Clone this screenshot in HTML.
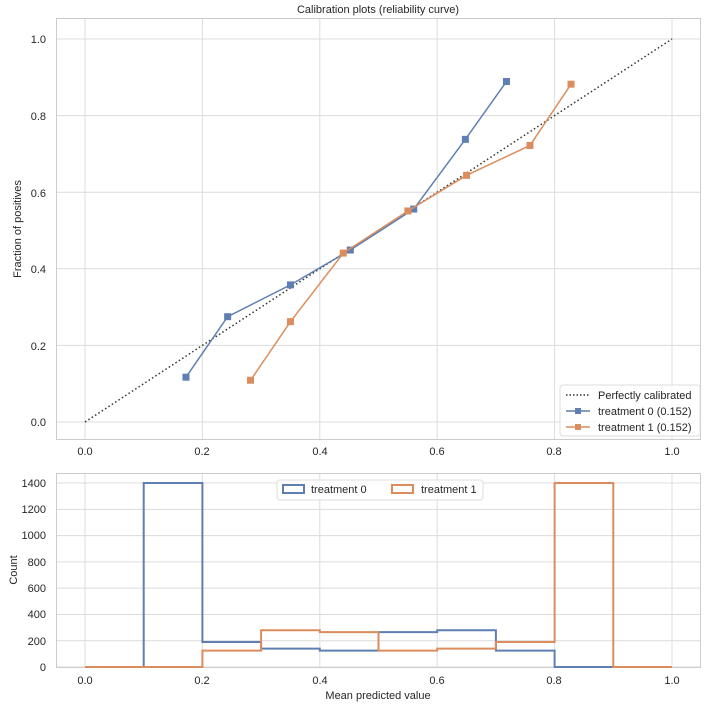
<!DOCTYPE html>
<html><head><meta charset="utf-8"><style>
body{margin:0;background:#fff}
svg text{font-family:"Liberation Sans",sans-serif;font-size:11px;fill:#262626}
</style></head><body>
<svg id="s" width="708" height="708" xmlns="http://www.w3.org/2000/svg">
<rect width="708" height="708" fill="#fff"/>
<g id="g1"></g>
<text x="378" y="13" text-anchor="middle" font-size="11.5">Calibration plots  (reliability curve)</text>
<g text-anchor="middle">
<text x="85" y="455">0.0</text><text x="202" y="455">0.2</text><text x="320" y="455">0.4</text><text x="437" y="455">0.6</text><text x="554" y="455">0.8</text><text x="672" y="455">1.0</text>
<text x="85" y="684">0.0</text><text x="202" y="684">0.2</text><text x="320" y="684">0.4</text><text x="437" y="684">0.6</text><text x="554" y="684">0.8</text><text x="672" y="684">1.0</text>
<text x="378" y="699" font-size="12">Mean predicted value</text>
</g>
<g text-anchor="end">
<text x="46" y="426">0.0</text><text x="46" y="350">0.2</text><text x="46" y="273">0.4</text><text x="46" y="197">0.6</text><text x="46" y="120">0.8</text><text x="46" y="43">1.0</text>
<text x="46" y="671">0</text><text x="46" y="645">200</text><text x="46" y="618">400</text><text x="46" y="592">600</text><text x="46" y="566">800</text><text x="46" y="539">1000</text><text x="46" y="513">1200</text><text x="46" y="487">1400</text>
</g>
<text transform="translate(21,229) rotate(-90)" text-anchor="middle" font-size="12">Fraction of positives</text>
<text transform="translate(17,570) rotate(-90)" text-anchor="middle" font-size="12">Count</text>
<rect x="560" y="385" width="140" height="51" rx="3" fill="#fff" fill-opacity="0.85" stroke="#ddd"/>
<line x1="566" y1="395" x2="590" y2="395" stroke="#333" stroke-dasharray="1.5,2" stroke-width="1.5"/>
<line x1="566" y1="411" x2="590" y2="411" stroke="#5f7fb3" stroke-width="1.5"/><rect x="575" y="408" width="6" height="6" fill="#5f7fb3"/>
<line x1="566" y1="427" x2="590" y2="427" stroke="#dc8d5e" stroke-width="1.5"/><rect x="575" y="424" width="6" height="6" fill="#dc8d5e"/>
<text x="598" y="399">Perfectly calibrated</text>
<text x="598" y="415">treatment 0 (0.152)</text>
<text x="598" y="431">treatment 1 (0.152)</text>
<rect x="277" y="480" width="206" height="20" rx="3" fill="#fff" fill-opacity="0.85" stroke="#ddd"/>
<rect x="283" y="485" width="21" height="8" fill="none" stroke="#5f7fb3" stroke-width="2"/>
<text x="311" y="493">treatment 0</text>
<rect x="392" y="485" width="21" height="8" fill="none" stroke="#dc8d5e" stroke-width="2"/>
<text x="421" y="493">treatment 1</text>
</svg>
<script>
var g=document.getElementById('g1'),h='';
function X(v){return 85+v*587}
function Y(v){return 422-v*383}
function C(v){return 667-v*0.1314}
[0,.2,.4,.6,.8,1].forEach(function(v){h+='<line x1="'+X(v)+'" y1="18" x2="'+X(v)+'" y2="440" stroke="#dcdcdc"/>';h+='<line x1="56" y1="'+Y(v)+'" x2="701" y2="'+Y(v)+'" stroke="#dcdcdc"/>';});
h+='<rect x="56.5" y="18.5" width="644" height="421" fill="none" stroke="#ccc"/>';
[0,.2,.4,.6,.8,1].forEach(function(v){h+='<line x1="'+X(v)+'" y1="473" x2="'+X(v)+'" y2="667" stroke="#dcdcdc"/>';});
[0,200,400,600,800,1000,1200,1400].forEach(function(v){h+='<line x1="56" y1="'+C(v)+'" x2="701" y2="'+C(v)+'" stroke="#dcdcdc"/>';});
h+='<rect x="56.5" y="473.5" width="644" height="194" fill="none" stroke="#ccc"/>';
h+='<line x1="'+X(0)+'" y1="'+Y(0)+'" x2="'+X(1)+'" y2="'+Y(1)+'" stroke="#333" stroke-width="1.5" stroke-dasharray="1.5,2.5"/>';
function ser(p,c){var d='';p.forEach(function(q,i){d+=(i?'L':'M')+X(q[0])+' '+Y(q[1]);});h+='<path d="'+d+'" fill="none" stroke="'+c+'" stroke-width="1.5"/>';p.forEach(function(q){h+='<rect x="'+(X(q[0])-3.5)+'" y="'+(Y(q[1])-3.5)+'" width="7" height="7" fill="'+c+'"/>';});}
ser([[.172,.117],[.243,.275],[.35,.358],[.452,.449],[.56,.556],[.648,.738],[.718,.889]],'#5f7fb3');
ser([[.282,.109],[.35,.262],[.44,.441],[.55,.551],[.65,.644],[.758,.722],[.828,.882]],'#dc8d5e');
function hist(v,c){var d='M'+X(0)+' '+C(0);for(var i=0;i<10;i++){d+='L'+X(i/10)+' '+C(v[i])+'L'+X((i+1)/10)+' '+C(v[i]);}d+='L'+X(1)+' '+C(0);h+='<path d="'+d+'" fill="none" stroke="'+c+'" stroke-width="2"/>';}
hist([0,1400,190,140,125,265,280,125,0,0],'#5f7fb3');
hist([0,0,125,280,265,125,140,190,1400,0],'#dc8d5e');
g.innerHTML=h;
</script>
</body></html>
